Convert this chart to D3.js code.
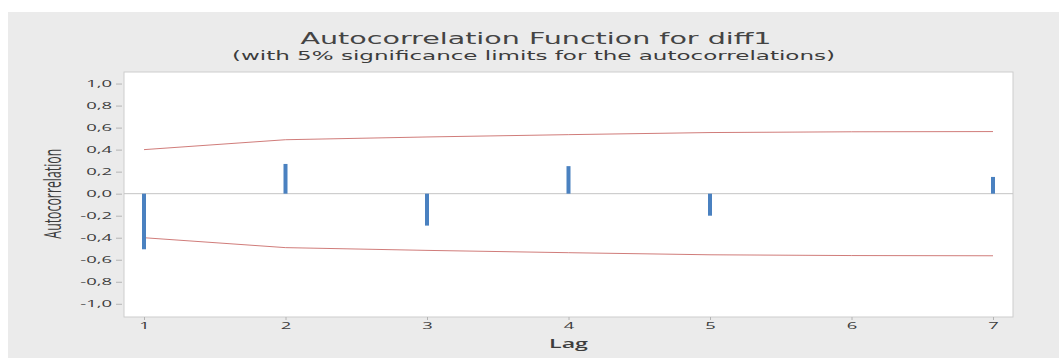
<!DOCTYPE html>
<html>
<head>
<meta charset="utf-8">
<script src="https://cdn.jsdelivr.net/npm/d3@7"></script>
<style>
  body { margin: 0; background: #fff; }
  text { font-family: "Open Sans", "DejaVu Sans", sans-serif; fill: #444; }
</style>
</head>
<body>
<svg id="chart" width="1059" height="358"></svg>
<script>
// ACF values
const lags = [1, 2, 3, 4, 5, 6, 7];
const acf = [-0.505, 0.27, -0.29, 0.25, -0.20, 0.0, 0.152];
// 5% significance limits (upper; lower is the mirror)
const upperLim = [0.40, 0.49, 0.515, 0.536, 0.555, 0.562, 0.564];
const lowerLim = [-0.40, -0.49, -0.515, -0.536, -0.555, -0.562, -0.564];
const yTicks = [-1.0, -0.8, -0.6, -0.4, -0.2, 0.0, 0.2, 0.4, 0.6, 0.8, 1.0];

const W = 1059, H = 358;
const margin = { top: 72, right: 46, bottom: 41, left: 124 };
const width = W - margin.left - margin.right;
const height = H - margin.top - margin.bottom;
const stretch = 2.05; // picture is squashed vertically, text looks wide

const svg = d3.select("#chart");

// outer grey panel
svg.append("rect")
    .attr("x", 8).attr("y", 12)
    .attr("width", W - 8).attr("height", H - 12)
    .attr("fill", "#ebebeb");

// data region
svg.append("rect")
    .attr("x", margin.left).attr("y", margin.top)
    .attr("width", width).attr("height", height)
    .attr("fill", "#fff")
    .attr("stroke", "#cdcdcd");

const x = d3.scaleLinear()
    .domain([1 - 20 / 141.5, 7 + 20 / 141.5])
    .range([margin.left, margin.left + width]);
const y = d3.scaleLinear()
    .domain([-1.12, 1.105])
    .range([margin.top + height, margin.top]);

const fmt = d => d3.format(".1f")(d).replace(".", ",").replace("−", "-");

// y axis
const gY = svg.append("g")
    .attr("transform", "translate(" + (margin.left - 2) + ",0)")
    .call(d3.axisLeft(y).tickValues(yTicks).tickSize(6).tickFormat(fmt));
gY.select(".domain").remove();
gY.selectAll("line").attr("stroke", "#b4b4b4");
gY.selectAll("text")
    .attr("font-size", 9)
    .attr("x", -10 / stretch)
    .attr("transform", "scale(" + stretch + ",1)")
    .style("fill", "#3c3c3c");

// x axis
const gX = svg.append("g")
    .attr("transform", "translate(0," + (margin.top + height) + ")")
    .call(d3.axisBottom(x).tickValues(lags).tickSize(3).tickFormat(d3.format("d")));
gX.select(".domain").remove();
gX.selectAll("line").attr("stroke", "#b4b4b4");
gX.selectAll("text")
    .attr("font-size", 9)
    .attr("y", 6)
    .attr("transform", "scale(" + stretch + ",1)")
    .attr("x", 0)
    .style("fill", "#3c3c3c");

// zero reference line
svg.append("line")
    .attr("x1", margin.left).attr("x2", margin.left + width)
    .attr("y1", y(0)).attr("y2", y(0))
    .attr("stroke", "#c4c4c4");

// significance limits
const limLine = d3.line()
    .x((d, i) => x(lags[i]))
    .y(d => y(d));
[upperLim, lowerLim].forEach(lim => {
    svg.append("path")
        .attr("d", limLine(lim))
        .attr("fill", "none")
        .attr("stroke", "#c0504d")
        .attr("stroke-opacity", 0.75)
        .attr("stroke-width", 1);
});

// ACF bars
svg.append("g").selectAll("rect")
    .data(acf)
    .join("rect")
    .attr("x", (d, i) => x(lags[i]) - 2)
    .attr("width", 4)
    .attr("y", d => y(Math.max(0, d)))
    .attr("height", d => Math.abs(y(d) - y(0)))
    .attr("fill", "#4a81c0");

// titles
svg.append("text")
    .attr("x", 536).attr("y", 43.5)
    .attr("text-anchor", "middle")
    .attr("font-size", 15.5)
    .attr("textLength", 471)
    .attr("lengthAdjust", "spacingAndGlyphs")
    .style("font-family", "'DejaVu Sans', sans-serif")
    .style("fill", "#444")
    .text("Autocorrelation Function for diff1");

svg.append("text")
    .attr("x", 533.5).attr("y", 59.5)
    .attr("text-anchor", "middle")
    .attr("font-size", 12)
    .attr("textLength", 603)
    .attr("lengthAdjust", "spacingAndGlyphs")
    .style("font-family", "'DejaVu Sans', sans-serif")
    .style("fill", "#3c3c3c")
    .text("(with 5% significance limits for the autocorrelations)");

// axis labels
svg.append("text")
    .attr("transform", "translate(61," + y(0) + ") rotate(-90)")
    .attr("text-anchor", "middle")
    .attr("font-size", 24)
    .attr("textLength", 90)
    .attr("lengthAdjust", "spacingAndGlyphs")
    .style("fill", "#3c3c3c")
    .text("Autocorrelation");

svg.append("text")
    .attr("x", margin.left + width / 2).attr("y", 347.5)
    .attr("text-anchor", "middle")
    .attr("font-size", 12)
    .attr("font-weight", 600)
    .attr("textLength", 39)
    .attr("lengthAdjust", "spacingAndGlyphs")
    .style("fill", "#3c3c3c")
    .text("Lag");
</script>
</body>
</html>
